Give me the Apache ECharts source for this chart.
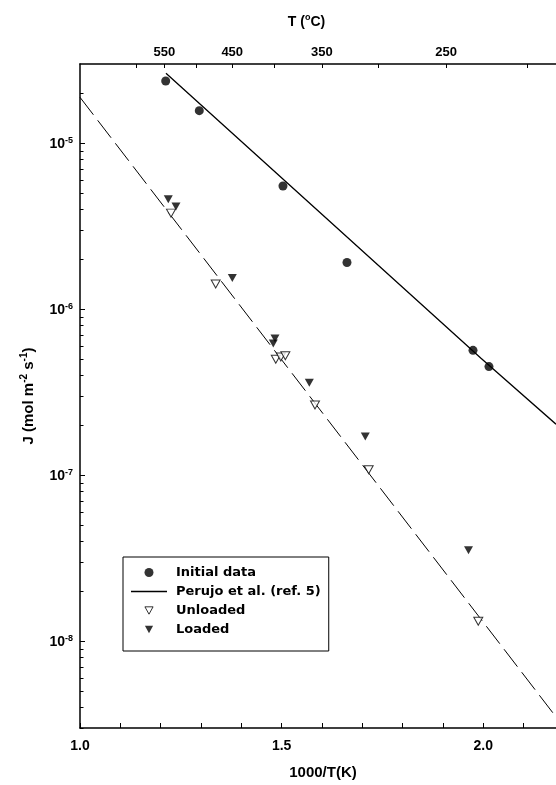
<!DOCTYPE html>
<html>
<head>
<meta charset="utf-8">
<script src="https://cdn.jsdelivr.net/npm/echarts@6/dist/echarts.min.js"></script>
<style>
html, body { margin: 0; padding: 0; background: #fff; }
#chart { width: 556px; height: 785px; }
</style>
</head>
<body>
<div id="chart"></div>
<script>
// x = 1000/T(K), y = J (mol m-2 s-1)
var initialX = [1.2125, 1.2958, 1.5033, 1.6620, 1.9745, 2.0141];
var initialJ = [2.37e-5, 1.57e-5, 5.52e-6, 1.91e-6, 5.65e-7, 4.51e-7];

var perujoX = [1.2132, 1.6025, 1.9943, 2.1803];
var perujoJ = [2.64e-5, 3.68e-6, 5.06e-7, 2.03e-7];

var unloadedX = [1.2256, 1.3365, 1.4855, 1.4980, 1.5092, 1.5827, 1.7158, 1.9876];
var unloadedJ = [3.79e-6, 1.42e-6, 5.0e-7, 5.15e-7, 5.24e-7, 2.65e-7, 1.08e-7, 1.32e-8];

var loadedX = [1.2189, 1.2380, 1.3776, 1.4835, 1.4793, 1.5686, 1.7074, 1.9633];
var loadedJ = [4.59e-6, 4.15e-6, 1.54e-6, 6.67e-7, 6.22e-7, 3.61e-7, 1.71e-7, 3.53e-8];

// dashed fit through the unloaded data
var fitX = [1.0, 2.1803];
var fitJ = [1.89e-5, 3.5e-9];

// ticks
var bottomTicks = [1.0, 1.1, 1.2, 1.3, 1.4, 1.5, 1.6, 1.7, 1.8, 1.9, 2.0, 2.1];
var bottomLabels = [1.0, 1.5, 2.0];
var topTicksC = [600, 550, 500, 450, 400, 350, 300, 250, 200];
var topLabelsC = [550, 450, 350, 250];
var yMajor = [1e-8, 1e-7, 1e-6, 1e-5];
var yMinorMult = [2, 3, 4, 5, 6, 7, 8, 9];

var Y_MIN = 3e-9, Y_MAX = 3e-5;

function pairs(xs, ys) {
    return xs.map(function (x, i) { return [x, ys[i]]; });
}
function toU(c) {
    return 1000 / (c + 273.15);
}

var yMinor = [];
[-9, -8, -7, -6, -5].forEach(function (e) {
    yMinorMult.forEach(function (m) {
        var v = m * Math.pow(10, e);
        if (v > Y_MIN && v < Y_MAX) yMinor.push(v);
    });
});

var FONT = 'Liberation Sans, Arial, sans-serif';
var black = '#000';

// legend icons (padded boxes so the glyphs stay small)
var ICON_DOWN = 'path://M-1,-1L-1,-1ZM11,10L11,10ZM0,0L10,0L5,9Z';
var ICON_LINE = 'path://M0,0L36,0L36,1.3L0,1.3Z';

var chart = echarts.init(document.getElementById('chart'), null, {renderer: 'canvas'});

var option = {
    animation: false,
    backgroundColor: '#fff',
    grid: {left: 80, top: 64, right: 0, bottom: 54, containLabel: false},
    legend: {
        orient: 'vertical',
        left: 123,
        top: 557,
        padding: [8, 8, 14, 8],
        borderColor: black,
        borderWidth: 1,
        itemWidth: 36,
        itemHeight: 9,
        itemGap: 4,
        symbolKeepAspect: true,
        data: [
            {name: 'Initial data', icon: 'circle'},
            {name: 'Perujo et al. (ref. 5)', icon: ICON_LINE},
            {name: 'Unloaded', icon: ICON_DOWN, itemStyle: {color: '#fff', borderColor: black, borderWidth: 1}},
            {name: 'Loaded', icon: ICON_DOWN, itemStyle: {color: black, borderWidth: 0}}
        ],
        textStyle: {
            color: black,
            fontFamily: 'DejaVu Sans',
            fontWeight: 'bold',
            fontSize: 13,
            lineHeight: 15,
            padding: [0, 0, 0, 4]
        }
    },
    xAxis: [{
        type: 'value',
        position: 'bottom',
        min: 1.0,
        max: 2.1803,
        name: '1000/T(K)',
        nameLocation: 'middle',
        nameGap: 37,
        nameTextStyle: {color: black, fontFamily: FONT, fontWeight: 'bold', fontSize: 15, padding: [0, 0, 0, 10]},
        axisLine: {lineStyle: {color: black, width: 1.5}},
        axisTick: {inside: true, length: 5, customValues: bottomTicks, lineStyle: {color: black}},
        axisLabel: {
            customValues: bottomLabels,
            margin: 11,
            color: black, fontFamily: FONT, fontWeight: 'bold', fontSize: 14,
            formatter: function (v) { return v.toFixed(1); }
        },
        splitLine: {show: false}
    }, {
        type: 'value',
        position: 'top',
        min: 1.00643,
        max: 2.18348,
        name: '{n|T (}{s|o}{n|C)}',
        nameLocation: 'middle',
        nameGap: 35,
        nameTextStyle: {
            padding: [0, 23, 0, 0],
            rich: {
                n: {color: black, fontFamily: FONT, fontWeight: 'bold', fontSize: 14, lineHeight: 16, verticalAlign: 'bottom'},
                s: {color: black, fontFamily: FONT, fontWeight: 'bold', fontSize: 9, lineHeight: 10, verticalAlign: 'top'}
            }
        },
        axisLine: {lineStyle: {color: black, width: 1.5}},
        axisTick: {inside: true, length: 4, customValues: topTicksC.map(toU), lineStyle: {color: black}},
        axisLabel: {
            customValues: topLabelsC.map(toU),
            margin: 5,
            color: black, fontFamily: FONT, fontWeight: 'bold', fontSize: 13,
            formatter: function (v) { return String(Math.round(1000 / v - 273.15)); }
        },
        splitLine: {show: false}
    }],
    yAxis: [{
        type: 'log',
        position: 'left',
        min: Y_MIN,
        max: Y_MAX,
        name: '{n|J (mol m}{s|-2}{n| s}{s|-1}{n|)}',
        nameLocation: 'middle',
        nameGap: 44,
        nameTextStyle: {
            rich: {
                n: {color: black, fontFamily: FONT, fontWeight: 'bold', fontSize: 15, lineHeight: 17, verticalAlign: 'bottom'},
                s: {color: black, fontFamily: FONT, fontWeight: 'bold', fontSize: 10, lineHeight: 11, verticalAlign: 'top'}
            }
        },
        axisLine: {show: true, lineStyle: {color: black, width: 1.5}},
        axisTick: {inside: true, length: 5, customValues: yMajor, lineStyle: {color: black}},
        axisLabel: {
            customValues: yMajor,
            margin: 7,
            formatter: function (v) {
                return '{b|10}{s|' + Math.round(Math.log10(v)) + '}';
            },
            rich: {
                b: {color: black, fontFamily: FONT, fontWeight: 'bold', fontSize: 14, lineHeight: 15, verticalAlign: 'bottom'},
                s: {color: black, fontFamily: FONT, fontWeight: 'bold', fontSize: 9, lineHeight: 10, verticalAlign: 'top'}
            }
        },
        splitLine: {show: false}
    }, {
        type: 'log',
        position: 'left',
        offset: 0,
        min: Y_MIN,
        max: Y_MAX,
        axisLine: {show: false},
        axisTick: {inside: true, length: 3.5, customValues: yMinor, lineStyle: {color: black}},
        axisLabel: {show: false},
        splitLine: {show: false}
    }],
    series: [{
        name: 'Initial data',
        type: 'scatter',
        data: pairs(initialX, initialJ),
        symbol: 'circle',
        symbolSize: 9,
        itemStyle: {color: black},
        z: 5
    }, {
        name: 'Perujo et al. (ref. 5)',
        type: 'line',
        data: pairs(perujoX, perujoJ),
        symbol: 'none',
        lineStyle: {color: black, width: 1.3},
        itemStyle: {color: black},
        z: 3
    }, {
        name: 'Unloaded',
        type: 'scatter',
        data: pairs(unloadedX, unloadedJ),
        symbol: 'triangle',
        symbolRotate: 180,
        symbolSize: [9, 8],
        itemStyle: {color: '#fff', borderColor: black, borderWidth: 1},
        z: 4
    }, {
        name: 'Loaded',
        type: 'scatter',
        data: pairs(loadedX, loadedJ),
        symbol: 'triangle',
        symbolRotate: 180,
        symbolSize: [9, 8],
        itemStyle: {color: black},
        z: 5
    }, {
        name: 'fit',
        type: 'line',
        data: pairs(fitX, fitJ),
        symbol: 'none',
        lineStyle: {color: black, width: 1, type: [22, 7]},
        z: 2
    }]
};

chart.setOption(option);
</script>
</body>
</html>
